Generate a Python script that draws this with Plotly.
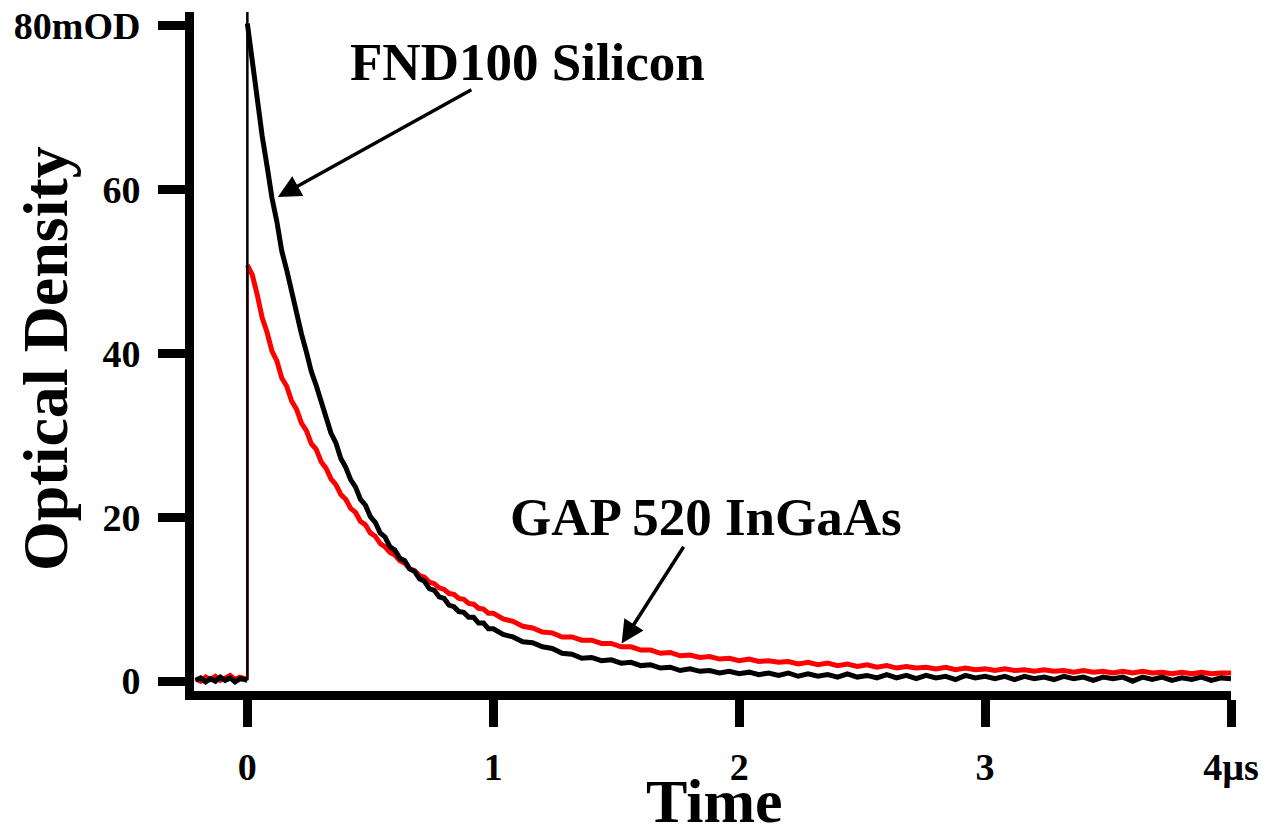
import numpy as np
import plotly.graph_objects as go

# ---------------- data ----------------
t_pre = [-0.21, -0.19, -0.17, -0.15, -0.13, -0.11, -0.09, -0.07, -0.05, -0.03, -0.01, 0.0]
black_pre = [0.1, 0.4, -0.1, 0.3, 0.0, 0.5, 0.1, 0.4, -0.1, 0.3, 0.2, 0.1]
red_pre = [0.3, 0.0, 0.5, 0.2, 0.6, 0.1, 0.4, 0.7, 0.2, 0.5, 0.3, 0.3]

t_jump = [0.0, 0.0]
black_jump = [0.1, 82.0]
red_jump = [0.3, 50.8]

t_fast = list(np.round(np.arange(0.0, 1.0001, 0.02), 2))
black_fast = [80.3, 75.6, 71.2, 66.6, 62.9, 59.0, 56.1, 52.5, 50.2, 47.5,
              45.2, 42.4, 40.2, 37.8, 36.1, 34.0, 32.4, 30.3, 29.1, 27.2,
              26.1, 24.6, 23.7, 22.2, 21.5, 20.1, 19.4, 18.1, 17.6, 16.4,
              16.0, 15.0, 14.7, 13.7, 13.4, 12.5, 12.2, 11.3, 11.1, 10.3,
              10.1, 9.3, 9.1, 8.5, 8.4, 7.8, 7.8, 7.1, 7.1, 6.4, 6.4]
red_fast = [50.8, 49.6, 47.2, 44.4, 42.6, 40.3, 39.1, 37.0, 36.0, 34.2,
            33.2, 31.5, 30.6, 29.0, 28.3, 26.8, 26.0, 24.7, 24.0, 22.8,
            22.2, 21.1, 20.6, 19.5, 19.1, 18.1, 17.7, 16.8, 16.4, 15.7,
            15.4, 14.7, 14.4, 13.7, 13.5, 12.9, 12.7, 12.1, 11.9, 11.4,
            11.2, 10.7, 10.6, 10.1, 10.0, 9.5, 9.4, 8.9, 8.8, 8.3, 8.3]

t_slow = list(np.round(np.arange(1.04, 4.0001, 0.04), 2))
black_slow = [5.7, 5.4, 4.8, 4.7, 4.2, 4.0, 3.4, 3.3, 2.8, 2.9,
              2.5, 2.6, 2.2, 2.3, 1.9, 2.0, 1.6, 1.7, 1.3, 1.5,
              1.2, 1.3, 1.0, 1.2, 0.9, 1.1, 0.8, 1.0, 0.7, 1.0,
              0.6, 0.9, 0.6, 0.8, 0.5, 0.9, 0.5, 0.7, 0.4, 0.8,
              0.4, 0.7, 0.3, 0.7, 0.4, 0.6, 0.2, 0.7, 0.4, 0.6,
              0.3, 0.6, 0.2, 0.6, 0.3, 0.5, 0.2, 0.6, 0.3, 0.5,
              0.1, 0.5, 0.3, 0.5, 0.0, 0.5, 0.2, 0.5, 0.1, 0.4,
              0.2, 0.5, 0.1, 0.4, 0.3]
red_slow = [7.6, 7.3, 6.7, 6.5, 6.0, 5.9, 5.4, 5.4, 5.0, 5.0,
            4.6, 4.6, 4.2, 4.2, 3.8, 3.8, 3.4, 3.5, 3.1, 3.2,
            2.9, 3.0, 2.7, 2.8, 2.5, 2.7, 2.4, 2.5, 2.3, 2.4,
            2.1, 2.3, 2.0, 2.2, 1.9, 2.1, 1.8, 2.0, 1.7, 1.9,
            1.6, 1.8, 1.6, 1.7, 1.5, 1.7, 1.4, 1.6, 1.4, 1.5,
            1.3, 1.5, 1.3, 1.4, 1.2, 1.4, 1.2, 1.3, 1.1, 1.3,
            1.1, 1.2, 1.0, 1.2, 1.0, 1.2, 1.0, 1.1, 0.9, 1.1,
            0.9, 1.1, 0.9, 1.0, 1.0]

x_tickvals = [0, 1, 2, 3, 4]
x_ticktext = ["0", "1", "2", "3", "4µs"]
y_tickvals = [0, 20, 40, 60, 80]
y_ticktext = ["0", "20", "40", "60", "80mOD"]

FONT = "Liberation Serif"

fig = go.Figure()

decay_t = t_fast + t_slow
series = [
    ("GAP 520 InGaAs", "#ff0000", red_pre, red_jump, red_fast + red_slow),
    ("FND100 Silicon", "#000000", black_pre, black_jump, black_fast + black_slow),
]
for name, col, pre, jump, decay in series:
    fig.add_trace(go.Scatter(x=t_pre, y=pre, mode="lines",
                             line=dict(color=col, width=5), showlegend=False,
                             hoverinfo="skip"))
    fig.add_trace(go.Scatter(x=t_jump, y=jump, mode="lines",
                             line=dict(color=col, width=2.5), showlegend=False,
                             hoverinfo="skip"))
    fig.add_trace(go.Scatter(x=decay_t, y=decay, mode="lines", name=name,
                             line=dict(color=col, width=5), showlegend=False))

axis_common = dict(
    showline=True, linecolor="black", linewidth=9,
    ticks="outside", ticklen=27, tickwidth=9, tickcolor="black",
    showgrid=False, zeroline=False, automargin=False,
    tickfont=dict(family=FONT, size=38, color="black", weight="bold"),
)

fig.update_xaxes(range=[-0.217, 4.0], tickvals=x_tickvals, ticktext=x_ticktext,
                 ticklabelstandoff=7, **axis_common)
fig.update_yaxes(range=[-1.2, 81.7], tickvals=y_tickvals, ticktext=y_ticktext,
                 ticklabelstandoff=10, **axis_common)

# axis titles
fig.add_annotation(x=0.5024, y=-0.162, xref="paper", yref="paper", text="Time",
                   showarrow=False, xanchor="center", yanchor="middle",
                   font=dict(family=FONT, size=62, color="black", weight="bold"))
fig.add_annotation(x=-0.1437, y=0.4904, xref="paper", yref="paper", text="Optical Density",
                   showarrow=False, textangle=-90, xanchor="center", yanchor="middle",
                   font=dict(family=FONT, size=64, color="black", weight="bold"))

# arrows
arrows = [
    dict(x=0.124, y=59.1, ax=0.917, ay=72.3),
    dict(x=1.522, y=4.6, ax=1.778, ay=16.6),
]
for a in arrows:
    fig.add_annotation(x=a["x"], y=a["y"], ax=a["ax"], ay=a["ay"],
                       xref="x", yref="y", axref="x", ayref="y",
                       text="", showarrow=True, arrowhead=2, arrowsize=1.3,
                       arrowwidth=3.5, arrowcolor="black")

labels = [
    dict(x=1.138, y=75.6, text="FND100 Silicon"),
    dict(x=1.864, y=20.0, text="GAP 520 InGaAs"),
]
for l in labels:
    fig.add_annotation(x=l["x"], y=l["y"], xref="x", yref="y", text=l["text"],
                       showarrow=False,
                       font=dict(family=FONT, size=53, color="black", weight="bold"))

fig.update_layout(
    width=1268, height=836,
    margin=dict(l=194, r=37, t=12, b=145),
    plot_bgcolor="white", paper_bgcolor="white",
    showlegend=False,
)

fig.write_html("out.html")
